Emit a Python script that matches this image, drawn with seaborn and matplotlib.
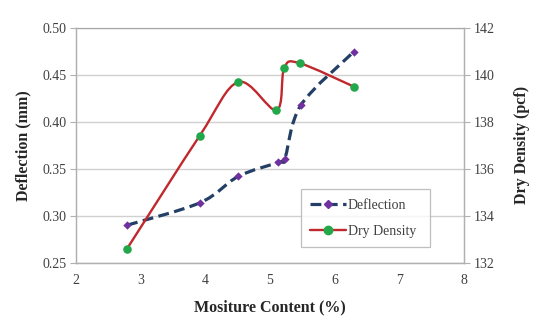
import numpy as np
import pandas as pd
import matplotlib
matplotlib.use("Agg")
import matplotlib.pyplot as plt
import seaborn as sns
from matplotlib.path import Path
from matplotlib.patches import PathPatch
from matplotlib.lines import Line2D

# ---- data ----
moisture_defl = [2.79, 3.92, 4.51, 5.13, 5.23, 5.48, 6.30]
deflection = [0.290, 0.314, 0.342, 0.357, 0.361, 0.418, 0.475]
moisture_dens = [2.79, 3.91, 4.51, 5.10, 5.22, 5.46, 6.30]
dry_density = [132.6, 137.4, 139.7, 138.5, 140.3, 140.5, 139.5]
x_ticks = [2, 3, 4, 5, 6, 7, 8]
left_ticks = [0.25, 0.30, 0.35, 0.40, 0.45, 0.50]
right_ticks = [132, 134, 136, 138, 140, 142]

sns.set_theme(style="white")
plt.rcParams["font.family"] = ["Liberation Serif", "DejaVu Serif"]

DEF_LINE = "#243F66"
DEF_MARK = "#7030A0"
DEN_LINE = "#C0282D"
DEN_MARK = "#22A84A"
TXT = "#404040"
GRID = "#D0D0D0"
SPINE = "#B0B0B0"


def smooth_path(xs, ys):
    pts = np.column_stack([xs, ys]).astype(float)
    verts = [pts[0]]
    codes = [Path.MOVETO]
    n = len(pts)
    for i in range(n - 1):
        p0 = pts[i - 1] if i > 0 else pts[i]
        p1 = pts[i]
        p2 = pts[i + 1]
        p3 = pts[i + 2] if i + 2 < n else pts[i + 1]
        c1 = p1 + (p2 - p0) / 6.0
        c2 = p2 - (p3 - p1) / 6.0
        verts += [c1, c2, p2]
        codes += [Path.CURVE4] * 3
    return Path(verts, codes)


fig = plt.figure(figsize=(5.34, 3.26), dpi=100)
ax = fig.add_axes([0.1423, 0.194, 0.7266, 0.720])
ax2 = ax.twinx()

df_def = pd.DataFrame({"m": moisture_defl, "v": deflection})
df_den = pd.DataFrame({"m": moisture_dens, "v": dry_density})

# grid
ax.set_axisbelow(True)
ax.yaxis.grid(True, color=GRID, linewidth=1.0)
ax.xaxis.grid(False)

DASH = (0, (3.4, 1.7))

# deflection (left axis)
ax.add_patch(PathPatch(smooth_path(moisture_defl, deflection), fill=False,
                       edgecolor=DEF_LINE, linewidth=2.3, linestyle=DASH,
                       zorder=3))
sns.scatterplot(data=df_def, x="m", y="v", ax=ax, marker="D", s=18,
                color=DEF_MARK, edgecolor=DEF_MARK, linewidth=0, zorder=4,
                legend=False)

# dry density (right axis)
ax2.add_patch(PathPatch(smooth_path(moisture_dens, dry_density), fill=False,
                        edgecolor=DEN_LINE, linewidth=1.7, zorder=3))
sns.scatterplot(data=df_den, x="m", y="v", ax=ax2, marker="o", s=38,
                color=DEN_MARK, edgecolor=DEN_MARK, linewidth=0, zorder=4,
                legend=False)

ax.set_xlim(2, 8)
ax.set_ylim(0.25, 0.50)
ax2.set_ylim(132, 142)
ax.set_xticks(x_ticks)
ax.set_xticklabels([str(t) for t in x_ticks])
ax.set_yticks(left_ticks)
ax.set_yticklabels([f"{t:.2f}" for t in left_ticks])
ax2.set_yticks(right_ticks)
ax2.set_yticklabels([str(t) for t in right_ticks])

for a in (ax, ax2):
    a.tick_params(axis="both", which="major", labelsize=10, colors=TXT,
                  length=4, width=0.8, direction="out", color=SPINE)
    for s in a.spines.values():
        s.set_color(SPINE)
        s.set_linewidth(0.9)
ax.spines["top"].set_color("#A8A8A8")
ax2.spines["top"].set_visible(False)
ax.tick_params(axis="x", pad=4)
ax.tick_params(axis="y", pad=3)
ax2.tick_params(axis="y", pad=3)

ax.set_xlabel("Mositure Content (%)", fontsize=11.5, fontweight="bold",
              color="#262626", labelpad=9)
ax.set_ylabel("Deflection (mm)", fontsize=11.5, fontweight="bold",
              color="#262626", labelpad=8)
ax2.set_ylabel("Dry Density (pcf)", fontsize=11.5, fontweight="bold",
               color="#262626", labelpad=14)

handles = [
    Line2D([0], [0], color=DEF_LINE, linewidth=2.3, linestyle=DASH,
           marker="D", markersize=4.5, markerfacecolor=DEF_MARK,
           markeredgecolor=DEF_MARK),
    Line2D([0], [0], color=DEN_LINE, linewidth=1.7, marker="o", markersize=6,
           markerfacecolor=DEN_MARK, markeredgecolor=DEN_MARK),
]
leg = ax2.legend(handles, ["Deflection", "Dry Density"],
                 loc="lower left", bbox_to_anchor=(0.579, 0.066, 0.333, 0.241),
                 mode="expand", fontsize=10, frameon=True, fancybox=False,
                 borderpad=0.7, labelspacing=0.9, handlelength=2.6,
                 handletextpad=0.1, borderaxespad=0)
leg.get_frame().set_edgecolor(SPINE)
leg.get_frame().set_linewidth(0.9)
for t in leg.get_texts():
    t.set_color(TXT)

fig.savefig("out.png", dpi=100, facecolor="white")
